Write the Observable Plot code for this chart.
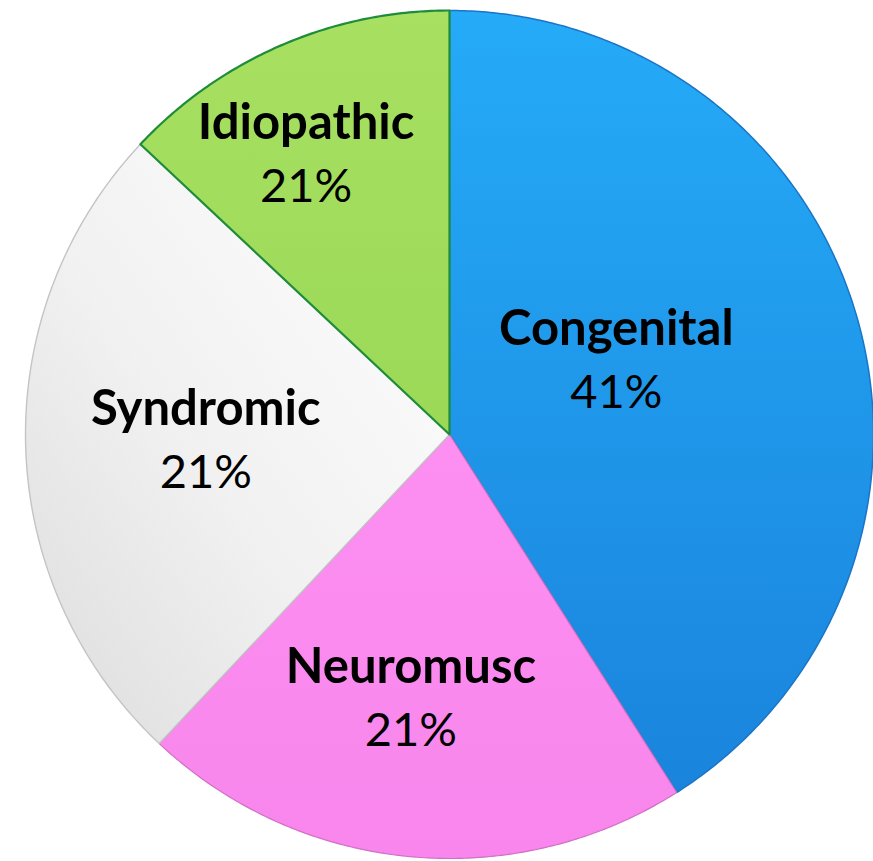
<!DOCTYPE html>
<html>
<head>
<meta charset="utf-8">
<script src="https://cdn.jsdelivr.net/npm/d3@7"></script>
<script src="https://cdn.jsdelivr.net/npm/@observablehq/plot@0.6"></script>
<style>
  html, body { margin: 0; padding: 0; background: #ffffff; }
  #chart svg { display: block; }
</style>
</head>
<body>
<div id="chart"></div>
<script>
// ---- data ----
const categories = ["Congenital", "Neuromusc", "Syndromic", "Idiopathic"];
const shares = [41, 21, 25, 13];              // slice sizes as drawn
const pctLabels = ["41%", "21%", "21%", "21%"]; // labels as printed

// ---- layout / style ----
const W = 873, H = 861;
const cx = 449, cy = 434, R = 424;           // pixel centre and radius
const fills = ["url(#gBlue)", "url(#gPink)", "url(#gWhite)", "url(#gGreen)"];
const strokes = ["#1a74c8", "#d070c4", "#c4c4c4", "#1e8c3a"];
const strokeW = [1.5, 1.2, 1.4, 2.2];
// label block placement: [angle offset (deg) from slice middle, radius fraction]
const labelPlace = [[-7.6, 0.43], [2.9, 0.63], [0.3, 0.575], [-3.8, 0.74]];

// ---- build slice geometry from data ----
const total = d3.sum(shares);
let acc = 0;
const slices = categories.map((name, i) => {
  const a0 = acc / total * 360;
  acc += shares[i];
  const a1 = acc / total * 360;
  const pts = [{u: 0, v: 0}];
  const n = Math.max(2, Math.ceil(a1 - a0) * 2);
  for (let k = 0; k <= n; k++) {
    const t = (a0 + (a1 - a0) * k / n) * Math.PI / 180;
    pts.push({u: Math.sin(t), v: Math.cos(t)});
  }
  pts.push({u: 0, v: 0});
  const mid = (a0 + a1) / 2 + labelPlace[i][0];
  const tm = mid * Math.PI / 180;
  const r = labelPlace[i][1];
  return {name, pct: pctLabels[i], pts, lu: r * Math.sin(tm), lv: r * Math.cos(tm), i};
});

const marks = slices.map(s =>
  Plot.line(s.pts, {x: "u", y: "v", fill: fills[s.i], stroke: strokes[s.i], strokeWidth: strokeW[s.i], strokeLinejoin: "round", curve: "linear"})
);
marks.push(Plot.text(slices, {x: "lu", y: "lv", text: "name", dy: -32, fontSize: 49, fontWeight: "bold", fontFamily: "Lato, 'DejaVu Sans', sans-serif", fill: "#000"}));
marks.push(Plot.text(slices, {x: "lu", y: "lv", text: "pct", dy: 32, fontSize: 47, fontWeight: "normal", fontFamily: "Lato, 'DejaVu Sans', sans-serif", fill: "#000"}));

const chart = Plot.plot({
  width: W, height: H, margin: 0,
  x: {domain: [-cx / R, (W - cx) / R], axis: null},
  y: {domain: [(cy - H) / R, cy / R], axis: null},
  marks
});

// gradients
const ns = "http://www.w3.org/2000/svg";
const defs = document.createElementNS(ns, "defs");
defs.innerHTML = `
  <linearGradient id="gBlue" x1="0" y1="0" x2="0" y2="1">
    <stop offset="0" stop-color="#25abf8"/><stop offset="1" stop-color="#1a84dc"/>
  </linearGradient>
  <linearGradient id="gPink" x1="0" y1="0" x2="0" y2="1">
    <stop offset="0" stop-color="#fd8ff2"/><stop offset="1" stop-color="#f886ec"/>
  </linearGradient>
  <linearGradient id="gWhite" x1="1" y1="0" x2="0" y2="1">
    <stop offset="0" stop-color="#ffffff"/><stop offset="0.55" stop-color="#f1f1f1"/><stop offset="1" stop-color="#dcdcdc"/>
  </linearGradient>
  <linearGradient id="gGreen" x1="0" y1="0" x2="0" y2="1">
    <stop offset="0" stop-color="#a8e062"/><stop offset="1" stop-color="#9bd957"/>
  </linearGradient>`;
chart.insertBefore(defs, chart.firstChild);
document.getElementById("chart").appendChild(chart);
</script>
</body>
</html>
